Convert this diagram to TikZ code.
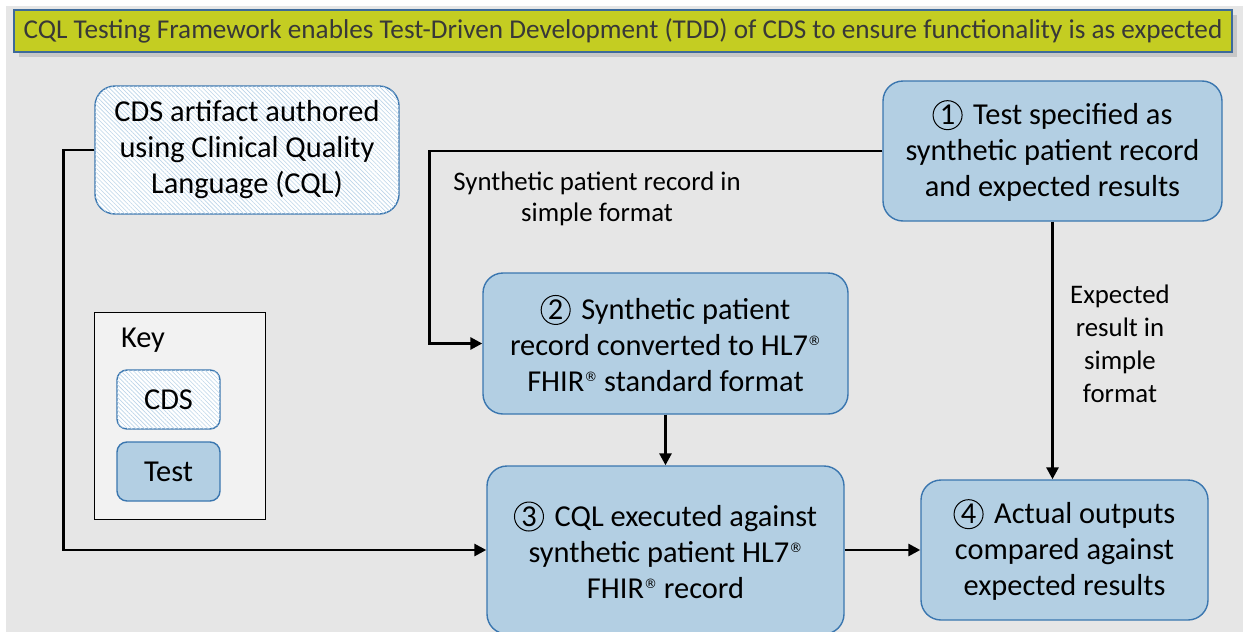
\documentclass[tikz,border=0pt]{standalone}
\usepackage{fontspec}
\setmainfont{Carlito}
\newfontfamily\regfont{DejaVu Sans}
\usetikzlibrary{arrows.meta,patterns.meta,shadows}

\definecolor{bggray}{HTML}{E6E6E6}
\definecolor{keygray}{HTML}{F2F2F2}
\definecolor{testblue}{HTML}{B3CFE3}
\definecolor{edgeblue}{HTML}{3A76AF}
\definecolor{hatchblue}{HTML}{BCD5E9}
\definecolor{titlegreen}{HTML}{C4CD22}
\definecolor{titleblue}{HTML}{3D6A9A}

\newcommand{\num}[1]{\tikz[baseline=(n.base)]\node[circle, draw, line width=0.5pt,
  minimum size=14.5pt, inner sep=0pt] (n) {#1};\hspace{0.35em}}
\newcommand{\reg}{\raisebox{5pt}{\regfont\fontsize{6.5}{7}\selectfont ®}}

\tikzset{
  testbox/.style={draw=edgeblue, line width=0.7pt, fill=testblue, rounded corners=10pt,
    align=center, inner sep=0pt, font=\fontsize{15.2}{18}\selectfont},
  cdsbox/.style={testbox, fill=white,
    postaction={pattern={Lines[angle=-45,distance=1.5pt,line width=0.3pt]}, pattern color=hatchblue}},
  conn/.style={->, line width=1.4pt},
  lbl/.style={align=center, font=\fontsize{13.4}{15.8}\selectfont}
}

\begin{document}
\begin{tikzpicture}[x=0.5pt, y=-0.5pt, >={Triangle[length=6pt,width=6pt]}]

  \useasboundingbox (0,0) rectangle (1243,632);
  \fill[white] (0,0) rectangle (1243,632);
  \fill[bggray] (6,6) rectangle (1243,632);

  % title bar
  \node[draw=titleblue, line width=0.6pt, fill=titlegreen, drop shadow={opacity=0.3},
        minimum width=609pt, minimum height=21pt, inner sep=0pt,
        font=\fontsize{13.6}{15}\selectfont, text=black!78] (title) at (623,31)
        {CQL Testing Framework enables Test-Driven Development (TDD) of CDS to ensure functionality is as expected};

  % main boxes
  \node[cdsbox, minimum width=152pt, minimum height=64pt] (cql) at (247,150)
        {CDS artifact authored\\using Clinical Quality\\Language (CQL)};
  \node[testbox, minimum width=169.5pt, minimum height=70pt] (spec) at (1052.5,151)
        {\num{1}Test specified as\\synthetic patient record\\and expected results};
  \node[testbox, minimum width=182.5pt, minimum height=70.5pt] (convert) at (665.5,343.5)
        {\num{2}Synthetic patient\\record converted to HL7\reg\\FHIR\reg\ standard format};
  \node[testbox, minimum width=178.5pt, minimum height=84pt] (run) at (665.5,550)
        {\num{3}CQL executed against\\synthetic patient HL7\reg\\FHIR\reg\ record};
  \node[testbox, minimum width=143.5pt, minimum height=70pt] (compare) at (1064.5,550)
        {\num{4}Actual outputs\\compared against\\expected results};

  % key
  \node[draw=black, line width=0.5pt, fill=keygray, minimum width=85.5pt, minimum height=103.5pt,
        inner sep=0pt] (key) at (179.5,415.5) {};
  \node[font=\fontsize{15.2}{18}\selectfont] (keytitle) at (143,340) {Key};
  \node[cdsbox, rounded corners=5pt, minimum width=51.5pt, minimum height=29.5pt] (keycds) at (168.5,399.5) {CDS};
  \node[testbox, rounded corners=5pt, minimum width=51.5pt, minimum height=29.5pt] (keytest) at (168.5,471.5) {Test};

  % labels
  \node[lbl] (reclbl) at (597,199) {Synthetic patient record in\\simple format};
  \node[lbl, font=\fontsize{13.4}{16.5}\selectfont] (explbl) at (1120,344) {Expected\\result in\\simple\\format};

  % connectors
  \draw[conn] (cql.west) -- ++(-31,0) |- (run.west);
  \draw[conn] (spec.west) -- ++(-453,0) |- (convert.west);
  \draw[conn] (convert.south) -- (run.north);
  \draw[conn] (spec.south) -- (spec.south |- compare.north);
  \draw[conn] (run.east) -- (compare.west);

\end{tikzpicture}
\end{document}
